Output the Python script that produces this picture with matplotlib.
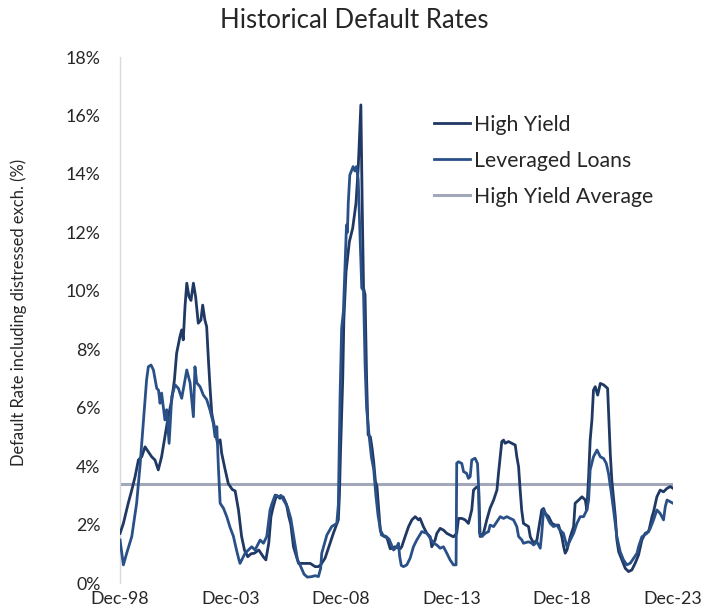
import matplotlib
matplotlib.use("Agg")
import matplotlib.pyplot as plt

plt.rcParams['font.family'] = ['Lato', 'DejaVu Sans']

# ---- data (decimal year, default rate %) ----
hy_years = [1998.92, 1999.07, 1999.29, 1999.45, 1999.60, 1999.75, 1999.90, 2000.05, 2000.20, 2000.35,
            2000.50, 2000.65, 2000.80, 2000.95, 2001.10, 2001.26, 2001.38, 2001.48, 2001.63, 2001.71,
            2001.78, 2001.86, 2001.94, 2002.04, 2002.13, 2002.24, 2002.34, 2002.46, 2002.58, 2002.66,
            2002.76, 2002.84, 2002.92, 2002.99, 2003.07, 2003.22, 2003.33, 2003.45, 2003.52, 2003.67,
            2003.82, 2004.00, 2004.13, 2004.28, 2004.42, 2004.55, 2004.70, 2004.85, 2005.00, 2005.20,
            2005.40, 2005.52, 2005.65, 2005.75, 2005.85, 2006.00, 2006.15, 2006.30, 2006.45, 2006.55,
            2006.65, 2006.77, 2007.00, 2007.23, 2007.53, 2007.75, 2007.90, 2008.00, 2008.20, 2008.40,
            2008.58, 2008.80, 2008.85, 2008.90, 2008.95, 2009.00, 2009.05, 2009.15, 2009.30, 2009.45,
            2009.60, 2009.70, 2009.82, 2009.88, 2009.94, 2010.01, 2010.08, 2010.15, 2010.25, 2010.33,
            2010.40, 2010.48, 2010.55, 2010.70, 2010.85, 2011.00, 2011.15, 2011.37, 2011.60, 2011.67,
            2011.82, 2011.98, 2012.13, 2012.28, 2012.43, 2012.50, 2012.65, 2012.81, 2012.96, 2013.03,
            2013.18, 2013.26, 2013.41, 2013.56, 2013.71, 2013.86, 2014.01, 2014.16, 2014.24, 2014.39,
            2014.54, 2014.69, 2014.84, 2014.92, 2015.04, 2015.15, 2015.22, 2015.37, 2015.52, 2015.67,
            2015.83, 2015.98, 2016.05, 2016.13, 2016.20, 2016.28, 2016.35, 2016.50, 2016.66, 2016.81,
            2016.88, 2016.96, 2017.03, 2017.10, 2017.18, 2017.26, 2017.41, 2017.49, 2017.64, 2017.79,
            2017.86, 2018.01, 2018.09, 2018.17, 2018.32, 2018.47, 2018.62, 2018.77, 2018.92, 2019.00,
            2019.07, 2019.15, 2019.30, 2019.45, 2019.52, 2019.68, 2019.83, 2019.98, 2020.05, 2020.13,
            2020.20, 2020.28, 2020.35, 2020.43, 2020.54, 2020.66, 2020.81, 2020.99, 2021.03, 2021.11,
            2021.18, 2021.34, 2021.41, 2021.49, 2021.64, 2021.79, 2021.94, 2022.09, 2022.24, 2022.39,
            2022.54, 2022.69, 2022.85, 2023.00, 2023.07, 2023.22, 2023.37, 2023.52, 2023.68, 2023.83,
            2023.95]
hy_rate = [1.70, 2.04, 2.73, 3.18, 3.64, 4.21, 4.32, 4.66, 4.49, 4.32,
           4.21, 3.87, 4.32, 5.01, 5.69, 6.26, 6.95, 7.86, 8.43, 8.66,
           8.32, 9.46, 10.26, 9.80, 9.67, 10.26, 9.80, 8.89, 9.00, 9.51,
           9.00, 8.77, 7.63, 6.72, 5.81, 5.24, 4.78, 4.90, 4.44, 3.90,
           3.40, 3.20, 3.15, 2.50, 1.60, 1.13, 0.90, 1.00, 1.02, 1.13,
           0.90, 0.79, 1.36, 2.27, 2.60, 3.00, 2.90, 2.95, 2.70, 2.30,
           2.00, 1.24, 0.67, 0.67, 0.67, 0.56, 0.56, 0.62, 0.85, 1.30,
           1.71, 2.16, 3.00, 4.50, 5.80, 7.00, 9.00, 10.66, 11.68, 12.14,
           13.00, 14.20, 16.36, 13.00, 10.10, 9.86, 7.00, 5.07, 5.00, 4.60,
           4.15, 3.47, 3.30, 1.80, 1.60, 1.55, 1.17, 1.24, 1.17, 1.24,
           1.58, 1.93, 2.16, 2.27, 2.16, 2.21, 1.93, 1.70, 1.58, 1.24,
           1.47, 1.70, 1.87, 1.81, 1.70, 1.64, 1.58, 1.70, 2.21, 2.21,
           2.16, 2.04, 2.50, 3.18, 3.27, 3.30, 1.59, 1.70, 2.16, 2.56,
           2.84, 3.18, 3.75, 4.32, 4.84, 4.89, 4.78, 4.84, 4.78, 4.72,
           4.32, 3.98, 3.20, 2.50, 2.04, 2.00, 1.93, 1.58, 1.36, 1.47,
           1.81, 2.50, 2.55, 2.38, 2.27, 2.04, 1.98, 1.98, 1.58, 1.24,
           1.02, 1.13, 1.58, 1.93, 2.73, 2.84, 2.95, 2.84, 2.50, 3.64,
           4.89, 5.58, 6.60, 6.72, 6.43, 6.83, 6.78, 6.66, 5.92, 4.44,
           3.52, 2.27, 1.47, 1.07, 0.79, 0.50, 0.39, 0.45, 0.68, 0.96,
           1.47, 1.70, 1.76, 2.27, 2.44, 2.95, 3.18, 3.12, 3.24, 3.30,
           3.24]

ll_years = [1998.92, 1999.07, 1999.22, 1999.45, 1999.67, 1999.82, 1999.97, 2000.12, 2000.20, 2000.32,
            2000.43, 2000.58, 2000.66, 2000.73, 2000.80, 2000.95, 2001.03, 2001.14, 2001.26, 2001.41,
            2001.56, 2001.71, 2001.86, 2001.94, 2002.09, 2002.24, 2002.31, 2002.39, 2002.54, 2002.69,
            2002.84, 2002.99, 2003.14, 2003.22, 2003.30, 2003.37, 2003.45, 2003.60, 2003.75, 2003.90,
            2004.05, 2004.20, 2004.30, 2004.35, 2004.50, 2004.58, 2004.73, 2004.88, 2005.03, 2005.26,
            2005.41, 2005.56, 2005.71, 2005.79, 2005.94, 2006.10, 2006.20, 2006.35, 2006.50, 2006.65,
            2006.80, 2006.95, 2007.10, 2007.25, 2007.40, 2007.60, 2007.75, 2007.90, 2008.00, 2008.05,
            2008.28, 2008.50, 2008.73, 2008.80, 2008.88, 2008.95, 2009.03, 2009.10, 2009.17, 2009.21,
            2009.25, 2009.32, 2009.47, 2009.55, 2009.62, 2009.70, 2009.78, 2009.86, 2009.94, 2010.01,
            2010.08, 2010.20, 2010.30, 2010.40, 2010.50, 2010.60, 2010.75, 2010.95, 2011.10, 2011.30,
            2011.45, 2011.52, 2011.58, 2011.65, 2011.75, 2011.90, 2012.05, 2012.20, 2012.35, 2012.58,
            2012.81, 2012.96, 2013.11, 2013.26, 2013.41, 2013.56, 2013.71, 2013.86, 2014.01, 2014.13,
            2014.16, 2014.24, 2014.39, 2014.47, 2014.61, 2014.69, 2014.77, 2014.84, 2014.99, 2015.10,
            2015.15, 2015.19, 2015.30, 2015.45, 2015.60, 2015.67, 2015.83, 2015.98, 2016.13, 2016.28,
            2016.43, 2016.58, 2016.73, 2016.88, 2016.96, 2017.11, 2017.18, 2017.41, 2017.56, 2017.64,
            2017.79, 2017.94, 2018.01, 2018.09, 2018.24, 2018.39, 2018.54, 2018.69, 2018.84, 2018.99,
            2019.15, 2019.30, 2019.45, 2019.60, 2019.75, 2019.90, 2020.05, 2020.13, 2020.20, 2020.35,
            2020.51, 2020.66, 2020.81, 2020.93, 2021.03, 2021.14, 2021.26, 2021.41, 2021.56, 2021.71,
            2021.86, 2022.02, 2022.17, 2022.32, 2022.39, 2022.54, 2022.77, 2022.92, 2023.07, 2023.22,
            2023.37, 2023.52, 2023.60, 2023.68, 2023.83, 2023.95]
ll_rate = [1.47, 0.62, 1.02, 1.59, 2.73, 3.98, 5.47, 6.95, 7.40, 7.46,
           7.29, 6.66, 6.60, 6.15, 6.50, 5.58, 5.93, 4.78, 6.38, 6.78,
           6.66, 6.32, 6.95, 7.29, 6.85, 5.69, 7.40, 6.85, 6.72, 6.43,
           6.28, 5.92, 5.47, 5.00, 5.35, 3.98, 2.73, 2.56, 2.27, 1.90,
           1.60, 1.10, 0.80, 0.67, 0.90, 1.02, 1.13, 1.24, 1.13, 1.47,
           1.36, 1.59, 2.50, 2.70, 3.01, 2.95, 3.00, 2.80, 2.60, 2.20,
           1.50, 0.80, 0.56, 0.30, 0.20, 0.22, 0.25, 0.22, 0.50, 1.02,
           1.64, 1.93, 2.04, 2.67, 6.43, 8.72, 9.30, 10.77, 12.25, 12.00,
           13.00, 13.96, 14.25, 14.10, 14.25, 13.80, 12.00, 10.10, 10.00, 7.50,
           5.98, 5.00, 4.30, 3.90, 3.00, 2.30, 1.64, 1.60, 1.50, 1.13,
           1.24, 1.36, 0.90, 0.60, 0.56, 0.62, 0.85, 1.24, 1.47, 1.76,
           1.70, 1.53, 1.36, 1.30, 1.19, 1.24, 1.02, 0.79, 0.62, 0.62,
           4.10, 4.15, 4.09, 3.81, 3.75, 3.58, 3.64, 4.21, 4.27, 4.09,
           3.30, 1.70, 1.59, 1.70, 1.76, 1.98, 1.93, 2.10, 2.27, 2.21,
           2.27, 2.21, 2.16, 1.93, 1.59, 1.47, 1.36, 1.41, 1.36, 1.30,
           1.41, 1.19, 1.70, 2.50, 2.27, 2.04, 1.93, 1.98, 1.81, 1.70,
           1.24, 1.47, 1.70, 2.04, 2.27, 2.27, 2.50, 2.84, 3.87, 4.32,
           4.55, 4.32, 4.26, 4.09, 3.75, 3.18, 2.50, 1.58, 1.07, 0.79,
           0.62, 0.68, 0.85, 1.02, 1.24, 1.58, 1.70, 1.87, 2.16, 2.50,
           2.38, 2.16, 2.61, 2.84, 2.78, 2.73]

hy_average = 3.4
avg_span = [1998.92, 2023.95]

tick_years = [1998.917, 2003.917, 2008.917, 2013.917, 2018.917, 2023.917]
tick_labels = ["Dec-98", "Dec-03", "Dec-08", "Dec-13", "Dec-18", "Dec-23"]
y_ticks = [0, 2, 4, 6, 8, 10, 12, 14, 16, 18]

TXT = '#262626'

# ---- figure ----
fig = plt.figure(figsize=(7.01, 6.11), dpi=100)
ax = fig.add_axes([120/701, 1-583/611, (673-120)/701, (583-57)/611])

ax.plot(hy_years, hy_rate, color='#1F3864', lw=2.0, label='High Yield', zorder=3)
ax.plot(ll_years, ll_rate, color='#2A5088', lw=2.0, label='Leveraged Loans', zorder=3)
ax.plot(avg_span, [hy_average, hy_average], color='#A3A7BA', lw=2.2, label='High Yield Average', zorder=2)

ax.set_xlim(1998.917, 2023.95)
ax.set_ylim(0, 18)
ax.set_yticks(y_ticks)
ax.set_yticklabels([f"{v}%" for v in y_ticks])
ax.set_xticks(tick_years)
ax.set_xticklabels(tick_labels)
ax.tick_params(axis='both', length=0, labelsize=12.8, colors=TXT)
ax.tick_params(axis='y', pad=14)
ax.tick_params(axis='x', pad=5.5)

for s in ['top', 'right', 'bottom']:
    ax.spines[s].set_visible(False)
ax.spines['left'].set_color('#D9D9D9')
ax.spines['left'].set_linewidth(1.0)

ax.set_ylabel('Default Rate including distressed exch. (%)', fontsize=11.9, color=TXT)
ax.yaxis.set_label_coords(-0.168, 0.515)

leg = ax.legend(loc='upper left', bbox_to_anchor=(0.568, 0.89), frameon=False,
                fontsize=15.3, handlelength=1.7, handletextpad=0.2, labelspacing=0.75,
                borderpad=0, borderaxespad=0)
for t in leg.get_texts():
    t.set_color(TXT)

fig.text(0.505, 0.966, 'Historical Default Rates', ha='center', va='center', fontsize=18.5, color=TXT)

fig.savefig('out.png', dpi=100)
